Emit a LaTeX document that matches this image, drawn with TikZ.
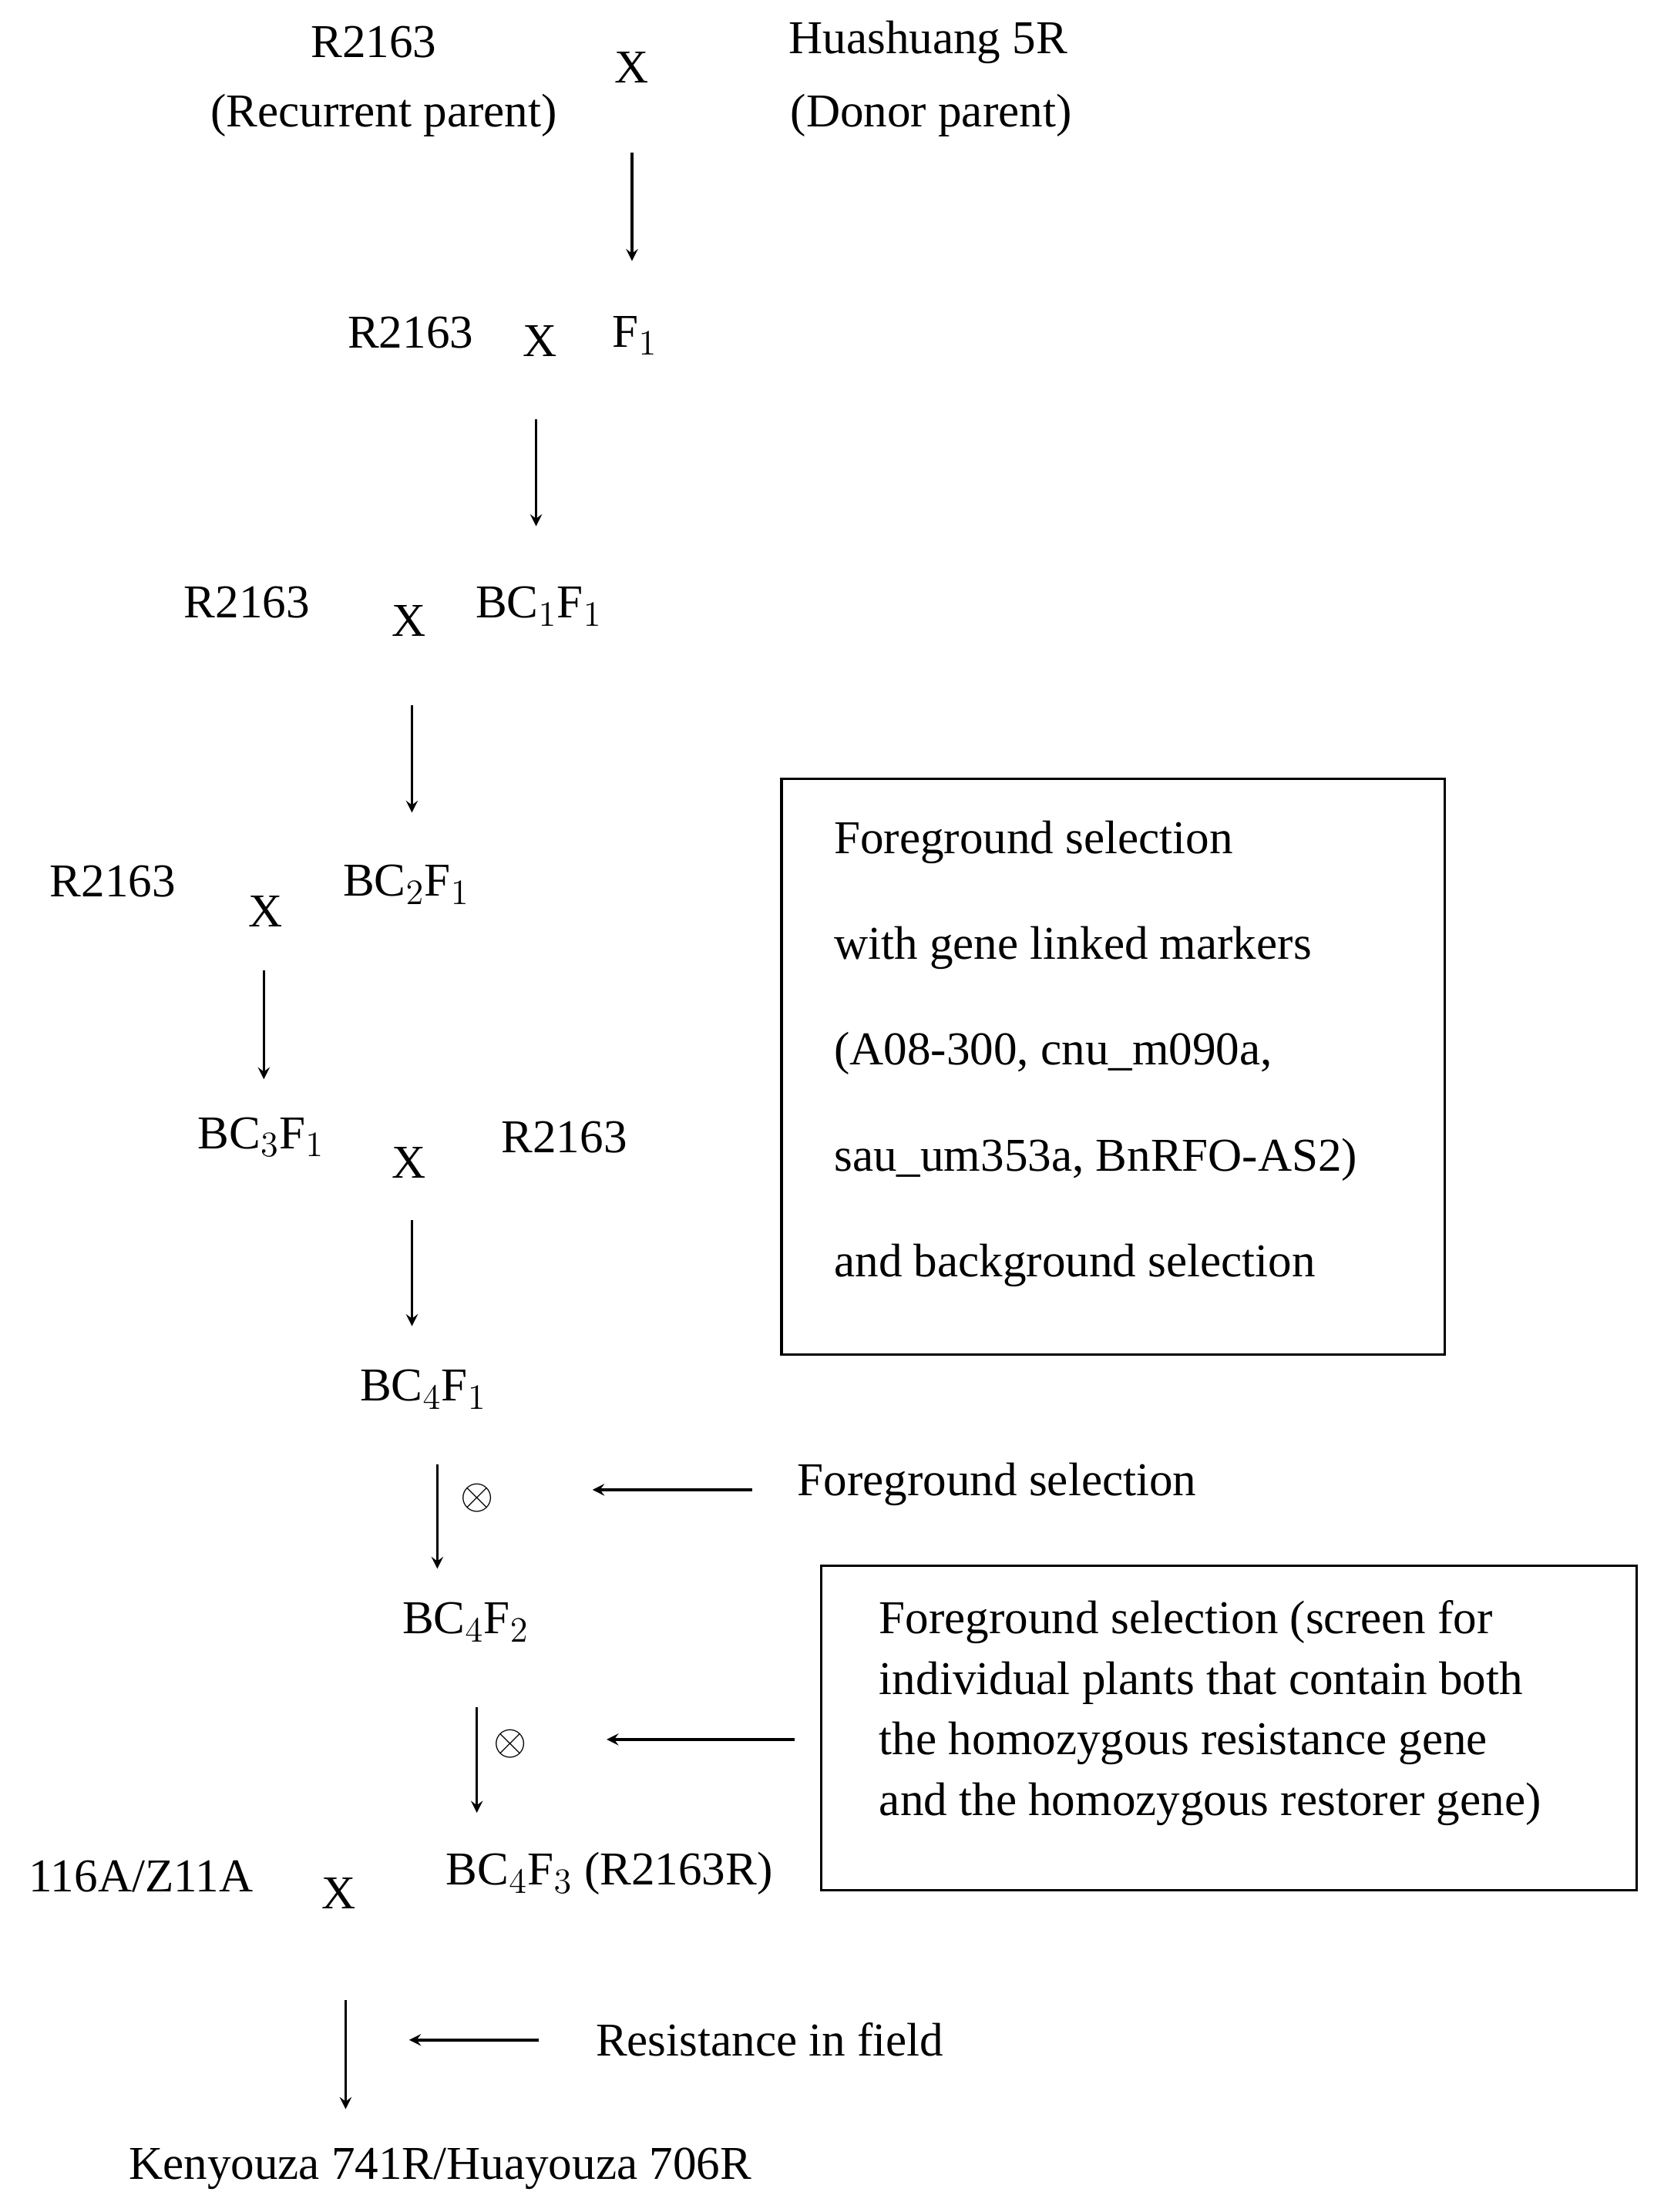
\documentclass[tikz,border=0pt]{standalone}
\usepackage{fontspec}
\setmainfont{Liberation Serif}
\usetikzlibrary{arrows}
\begin{document}
\begin{tikzpicture}[x=0.02cm,y=-0.02cm,>=stealth,
    every node/.style={font=\fontsize{19}{23}\selectfont,inner sep=0pt},
    gen/.style={->,line width=1.1pt},
    box/.style={draw,line width=1pt}]
        \useasboundingbox (0,0) rectangle (1172,1568);
        % crosses
        \node (P1) at (265,30) {R2163};
        \node (P1b) at (272,82) {(Recurrent parent)};
        \node (X1) at (448,48) {X};
        \node (D1) at (658,30) {Huashuang 5R};
        \node (D1b) at (660,82) {(Donor parent)};
        \coordinate (a1) at (448,108); \coordinate (b1) at (448,185);
        \draw[gen] (a1) -- (b1);

        \node (P2) at (291,236) {R2163};
        \node (X2) at (383,242) {X};
        \node (G1) at (450,238) {F$_1$};
        \coordinate (a2) at (380,297); \coordinate (b2) at (380,373);
        \draw[gen] (a2) -- (b2);

        \node (P3) at (175,427) {R2163};
        \node (X3) at (290,440) {X};
        \node (G2) at (382,430) {BC$_1$F$_1$};
        \coordinate (a3) at (292,500); \coordinate (b3) at (292,576);
        \draw[gen] (a3) -- (b3);

        \node (P4) at (80,625) {R2163};
        \node (X4) at (188,646) {X};
        \node (G3) at (288,627) {BC$_2$F$_1$};
        \coordinate (a4) at (187,688); \coordinate (b4) at (187,765);
        \draw[gen] (a4) -- (b4);

        \node (G4) at (185,806) {BC$_3$F$_1$};
        \node (X5) at (290,824) {X};
        \node (P5) at (400,806) {R2163};
        \coordinate (a5) at (292,865); \coordinate (b5) at (292,940);
        \draw[gen] (a5) -- (b5);

        \node (G5) at (300,985) {BC$_4$F$_1$};
        \coordinate (a6) at (310,1038); \coordinate (b6) at (310,1112);
        \draw[gen] (a6) -- (b6);
        \node (S1) at (338,1062) {$\otimes$};
        \node[anchor=west] (T1) at (565,1052) {Foreground selection};
        \coordinate (c6) at (533,1056); \coordinate (d6) at (420,1056);
        \draw[gen] (c6) -- (d6);

        \node (G6) at (330,1150) {BC$_4$F$_2$};
        \coordinate (a7) at (338,1210); \coordinate (b7) at (338,1285);
        \draw[gen] (a7) -- (b7);
        \node (S2) at (362,1236) {$\otimes$};
        \coordinate (c7) at (563,1233); \coordinate (d7) at (430,1233);
        \draw[gen] (c7) -- (d7);

        \node (P6) at (100,1330) {116A/Z11A};
        \node (X6) at (240,1342) {X};
        \node (G7) at (432,1328) {BC$_4$F$_3$ (R2163R)};
        \coordinate (a8) at (245,1418); \coordinate (b8) at (245,1495);
        \draw[gen] (a8) -- (b8);
        \coordinate (c8) at (382,1446); \coordinate (d8) at (290,1446);
        \draw[gen] (c8) -- (d8);
        \node[anchor=west] (T3) at (422,1446) {Resistance in field};

        \node (H1) at (312,1537) {Kenyouza 741R/Huayouza 706R};

        % selection boxes
        \draw[box] (554,552) rectangle (1024,960);
        \foreach \t [count=\i] in {Foreground selection,with gene linked markers,
            {(A08-300, cnu\_m090a,},{sau\_um353a, BnRFO-AS2)},and background selection}
            \node[anchor=west] (B1-\i) at (591,522+75*\i) {\t};
        \draw[box] (582,1110) rectangle (1160,1340);
        \foreach \t [count=\i] in {Foreground selection (screen for,
            individual plants that contain both,the homozygous resistance gene,
            and the homozygous restorer gene)}
            \node[anchor=west] (B2-\i) at (623,1107+43*\i) {\t};
    \end{tikzpicture}
\end{document}
